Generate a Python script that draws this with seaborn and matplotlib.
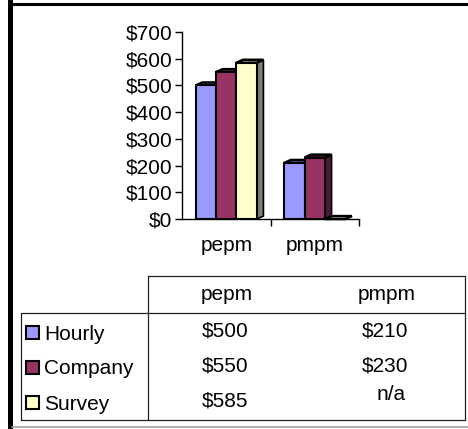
import numpy as np
import pandas as pd
import matplotlib
matplotlib.use("Agg")
import matplotlib.pyplot as plt
import seaborn as sns
from matplotlib.patches import Polygon, Rectangle
from matplotlib.lines import Line2D

# ---- data ----
categories = ["pepm", "pmpm"]
series = ["Hourly", "Company", "Survey"]
hourly = [500, 210]
company = [550, 230]
survey = [585, None]          # n/a for pmpm
y_ticks = [0, 100, 200, 300, 400, 500, 600, 700]
y_tick_labels = ["$" + str(v) for v in y_ticks]

colors = ["#9999FF", "#993366", "#FFFFCC"]
side_colors = ["#5C5C99", "#4D1A33", "#80806A"]

sns.set_theme(style="white")
plt.rcParams['font.family'] = ['Liberation Sans', 'DejaVu Sans']

values = {"Hourly": hourly, "Company": company, "Survey": survey}
rows = []
for s in series:
    for c, v in zip(categories, values[s]):
        rows.append({"category": c, "series": s, "value": v})
df = pd.DataFrame(rows)
df["value"] = pd.to_numeric(df["value"])
df["plot_value"] = df["value"].fillna(0)

W, H = 468, 429
fig = plt.figure(figsize=(W / 100, H / 100), dpi=100)
fig.patch.set_facecolor("white")


def fx(px):
    return px / W


def fy(py):
    return 1 - py / H


# background axes in pixel coordinates for frame + table
bg = fig.add_axes([0, 0, 1, 1], zorder=0)
bg.set_xlim(0, W)
bg.set_ylim(H, 0)
bg.axis("off")

# chart axes
ax = fig.add_axes([fx(182), fy(219), fx(359) - fx(182), fy(32) - fy(219)], zorder=1)
ax.patch.set_alpha(0)
sns.barplot(data=df, x="category", y="plot_value", hue="series",
            order=categories, hue_order=series, palette=colors,
            saturation=1, width=0.69, edgecolor="black", linewidth=1.5,
            legend=False, ax=ax, zorder=3, errorbar=None)

ax.set_xlim(-0.5, 1.5)
ax.set_ylim(0, 700)

# pseudo-3D faces derived from each bar
dx, dy = 0.075, 11
for cont, sc, fc in zip(ax.containers, side_colors, colors):
    for p in cont.patches:
        x0 = p.get_x()
        x1 = x0 + p.get_width()
        y1 = p.get_height()
        side = Polygon([(x1, 0), (x1 + dx, dy), (x1 + dx, y1 + dy), (x1, y1)],
                       closed=True, facecolor=sc, edgecolor="black",
                       linewidth=1.2, zorder=2, clip_on=False)
        top = Polygon([(x0, y1), (x0 + dx, y1 + dy), (x1 + dx, y1 + dy), (x1, y1)],
                      closed=True, facecolor=fc, edgecolor="black",
                      linewidth=1.8, zorder=2, clip_on=False)
        ax.add_patch(side)
        ax.add_patch(top)

ax.set_yticks(y_ticks)
ax.set_yticklabels(y_tick_labels)
ax.set_xticks([0, 1])
ax.set_xticklabels(categories)
ax.set_xticks([0.5, 1.5], minor=True)
ax.set_xlabel("")
ax.set_ylabel("")
ax.tick_params(axis="y", which="major", direction="out", length=5, width=1,
               color="black", labelsize=15, pad=2, left=True, labelcolor="black")
ax.tick_params(axis="x", which="major", length=0, labelsize=15, pad=12,
               labelcolor="black")
ax.tick_params(axis="x", which="minor", direction="out", length=5, width=1,
               color="black", bottom=True)
for s in ["top", "right"]:
    ax.spines[s].set_visible(False)
for s in ["left", "bottom"]:
    ax.spines[s].set_color("black")
    ax.spines[s].set_linewidth(1)
ax.grid(False)

# ---- frame ----
bg.add_line(Line2D([9.5, 9.5], [0, H], color="black", linewidth=3.6))
bg.add_line(Line2D([9, W], [4, 4], color="black", linewidth=2.2))
bg.add_line(Line2D([12, W], [427, 427], color="#A0A0A0", linewidth=1.2))

# ---- data table ----
lc = "#222222"
lw = 0.9
bg.add_line(Line2D([148, 465], [276, 276], color=lc, linewidth=lw))
bg.add_line(Line2D([21, 465], [313, 313], color=lc, linewidth=lw))
bg.add_line(Line2D([21, 465], [420, 420], color=lc, linewidth=lw))
bg.add_line(Line2D([148, 148], [276, 420], color=lc, linewidth=lw))
bg.add_line(Line2D([21, 21], [313, 420], color=lc, linewidth=lw))
bg.add_line(Line2D([465, 465], [276, 420], color=lc, linewidth=lw))

col_x = [227, 387]
for c, x in zip(categories, col_x):
    bg.text(x, 294, c, ha="center", va="center", fontsize=15, color="black")

row_y = [333, 368, 403]
for s, yy, col in zip(series, row_y, colors):
    bg.add_patch(Rectangle((26, yy - 7), 13, 13, facecolor=col,
                           edgecolor="black", linewidth=1.5))
    bg.text(44, yy + 1, s, ha="left", va="center", fontsize=15, color="black")
    for x, v in zip(col_x, values[s]):
        if v is None:
            bg.text(x + 4, yy - 8, "n/a", ha="center", va="center",
                    fontsize=15, color="black")
        else:
            bg.text(x - 2, yy - 2, "$" + str(v), ha="center", va="center",
                    fontsize=15, color="black")

fig.savefig("out.png", dpi=100)
